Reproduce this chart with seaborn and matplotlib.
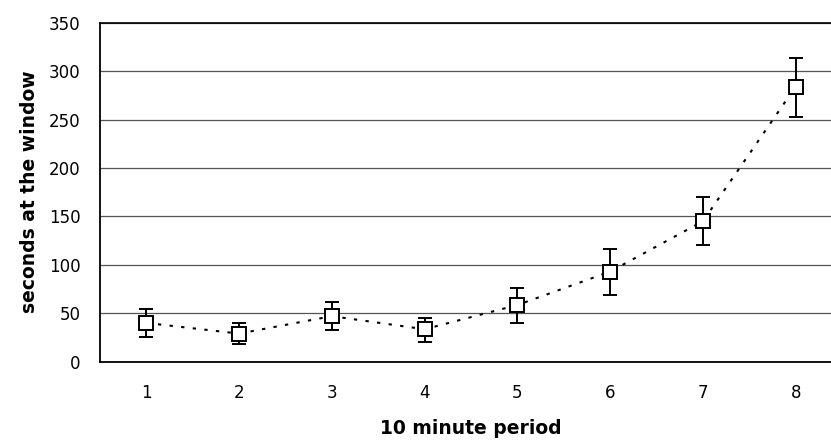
import numpy as np
import pandas as pd
import matplotlib
matplotlib.use("Agg")
import matplotlib.pyplot as plt
import seaborn as sns

# 数据
periods = [1, 2, 3, 4, 5, 6, 7, 8]
mean_seconds = [40, 29, 47, 33.5, 58.5, 93, 145, 284]
err_low = [25, 18, 33, 20, 40, 69, 120, 252.5]
err_high = [54, 39.5, 61.5, 45.5, 76, 116.5, 170, 313.5]
y_ticks = [0, 50, 100, 150, 200, 250, 300, 350]

df = pd.DataFrame({"period": periods, "seconds": mean_seconds})

sns.set_style("white")
plt.rcParams["font.family"] = ["DejaVu Sans"]
plt.rcParams["text.color"] = "black"
plt.rcParams["axes.labelcolor"] = "black"
plt.rcParams["xtick.color"] = "black"
plt.rcParams["ytick.color"] = "black"

fig = plt.figure(figsize=(8.31, 4.42), dpi=100)
ax = fig.add_axes([0.1203, 0.1817, 0.893, 0.767])

# 网格线
for v in y_ticks[1:]:
    ax.axhline(v, color="#555555", lw=0.9, zorder=0)

# 虚线连线
sns.lineplot(data=df, x="period", y="seconds", ax=ax, color="black",
             linestyle=(0, (1.6, 4.0)), linewidth=1.5, zorder=2)

# 误差线 + 空心方块
yerr = [np.array(mean_seconds) - np.array(err_low),
        np.array(err_high) - np.array(mean_seconds)]
ax.errorbar(periods, mean_seconds, yerr=yerr, fmt="none", ecolor="black",
            elinewidth=1.4, capsize=5, capthick=1.4, zorder=3)
ax.plot(periods, mean_seconds, linestyle="none", marker="s", markersize=10,
        markerfacecolor="white", markeredgecolor="black", markeredgewidth=1.4,
        zorder=4)

ax.set_xlim(0.5, 8.5)
ax.set_ylim(0, 350)
ax.set_yticks(y_ticks)
ax.set_xticks(periods)
ax.set_xticks(np.arange(0.5, 9.0, 1.0), minor=True)
ax.tick_params(axis="x", which="major", length=0, pad=16, labelsize=12)
ax.tick_params(axis="x", which="minor", length=5, width=0.9, direction="out",
               color="black")
ax.tick_params(axis="y", which="major", length=5, width=0.9, direction="out",
               color="black", labelsize=12, pad=9)

for side in ["left", "bottom"]:
    ax.spines[side].set_color("black")
    ax.spines[side].set_linewidth(1.3)
ax.spines["top"].set_visible(False)
ax.spines["right"].set_visible(False)
ax.axhline(350, color="black", lw=1.2, zorder=1, clip_on=False)

ax.set_xlabel("10 minute period", fontsize=13.5, fontweight="bold", labelpad=12)
ax.set_ylabel("seconds at the window", fontsize=13.5, fontweight="bold", labelpad=7)

fig.savefig("out.png", dpi=100)
